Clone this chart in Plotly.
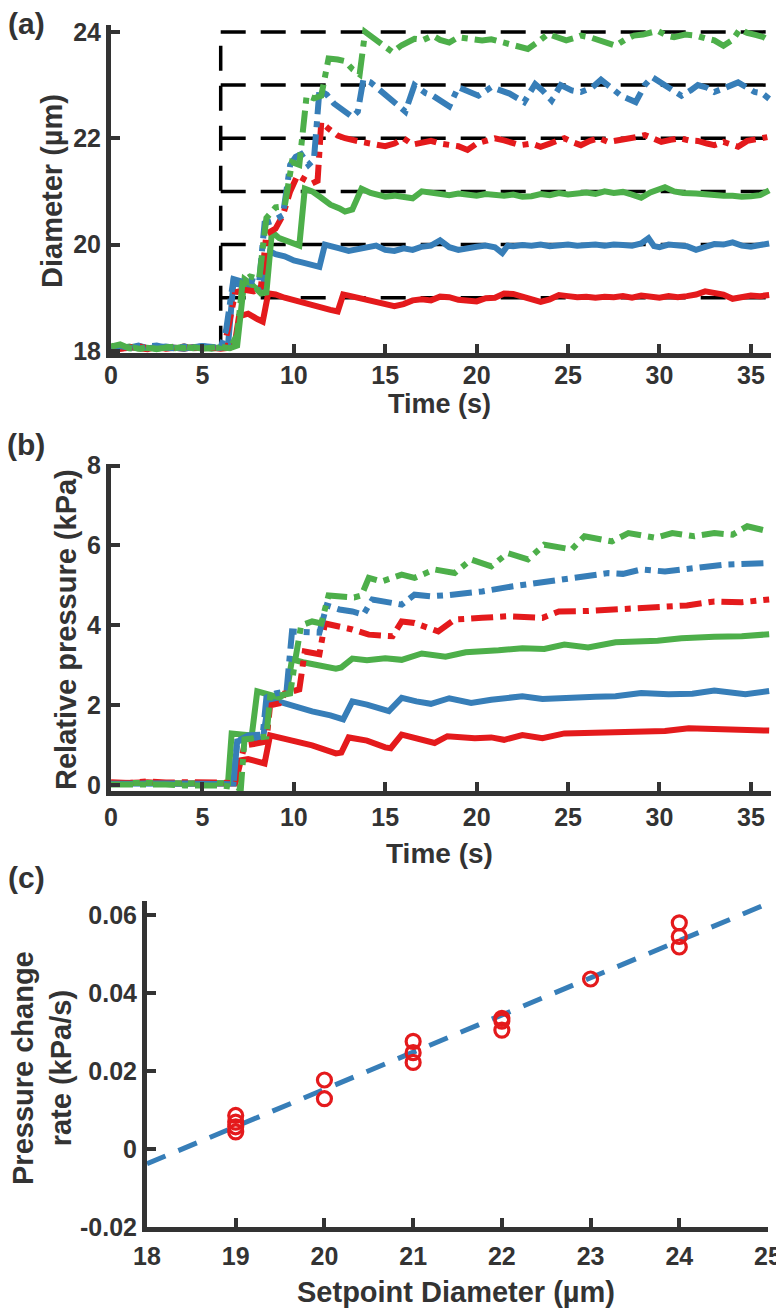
import numpy as np
import plotly.graph_objects as go

W, H = 784, 1311
OFF = 8  # the page body adds an 8 px margin at top/left
RED, BLUE, GREEN = "#E41A1C", "#377EB8", "#4DAF4A"
AX = "#333333"
FONT = "Liberation Sans, Arial, sans-serif"

# ---------------- Panel (a): diameter vs time (t, diameter) ----------------
SETPOINTS = [19, 20, 21, 22, 23, 24]
REF_START = 6
REF_END = 36

DIA_19 = [(0,18.05),(0.5,18.04),(1,18.07),(1.5,18.06),(2,18.03),(2.5,18.08),(3,18.05),(3.5,18.06),(4,18.04),(4.5,18.07),(5,18.05),(5.5,18.06),(6,18.04),(6.5,18.06),(6.8,18.2),(7.0,18.65),(7.5,18.7),(8.0,18.6),(8.3,18.55),(8.6,19.08),(9,19.06),(9.5,19.0),(10,18.95),(10.5,18.9),(11,18.86),(11.5,18.8),(12,18.77),(12.4,18.74),(12.7,19.06),(13,19.04),(13.5,19.0),(14,18.98),(14.5,18.93),(15,18.88),(15.5,18.84),(16,18.88),(16.5,18.95),(17,18.97),(17.5,18.95),(18,19.02),(18.5,19.01),(19,18.96),(19.5,18.94),(20,18.93),(20.5,18.99),(21,19.0),(21.5,19.08),(22,19.07),(22.5,19.02),(23,18.98),(23.5,18.92),(24,18.97),(24.5,19.05),(25,19.03),(25.5,19.01),(26,19.02),(26.5,19.0),(27,19.02),(27.5,19.01),(28,19.03),(28.5,19.0),(29,19.04),(29.5,19.02),(30,19.0),(30.5,19.03),(31,19.01),(31.5,19.03),(32,19.06),(32.5,19.12),(33,19.08),(33.5,19.06),(34,18.98),(34.5,19.02),(35,19.04),(35.5,19.03),(36,19.05)]
DIA_20 = [(0,18.08),(0.5,18.05),(1,18.06),(1.5,18.1),(2,18.05),(2.5,18.07),(3,18.08),(3.5,18.06),(4,18.04),(4.5,18.07),(5,18.09),(5.5,18.05),(6,18.06),(6.4,18.1),(6.7,19.3),(7.0,19.25),(7.5,19.18),(8.0,19.17),(8.3,19.2),(8.7,19.87),(9.0,19.82),(9.5,19.78),(10,19.7),(10.5,19.66),(11,19.62),(11.4,19.58),(11.7,20.0),(12,19.98),(12.5,19.93),(13,19.88),(13.5,19.92),(14,19.96),(14.5,19.98),(15,19.9),(15.5,19.88),(16,19.93),(16.5,19.9),(17,19.96),(17.5,19.98),(18,20.08),(18.5,19.95),(19,19.9),(19.5,19.94),(20,19.96),(20.5,19.98),(21,19.95),(21.4,19.84),(21.7,19.98),(22,19.97),(22.5,19.99),(23,19.98),(23.5,20.0),(24,19.97),(24.5,19.99),(25,20.0),(25.5,19.98),(26,19.99),(26.5,20.0),(27,19.98),(27.5,20.0),(28,19.99),(28.5,19.98),(29,20.02),(29.4,20.12),(29.7,19.97),(30,19.95),(30.5,20.0),(31,19.98),(31.5,19.97),(32,19.9),(32.5,19.96),(33,20.01),(33.5,20.0),(34,20.04),(34.5,19.98),(35,19.96),(35.5,19.99),(36,20.02)]
DIA_21 = [(0,18.1),(0.5,18.05),(1,18.08),(1.5,18.04),(2,18.06),(2.5,18.03),(3,18.07),(3.5,18.05),(4,18.08),(4.5,18.05),(5,18.06),(5.5,18.04),(6,18.07),(6.5,18.05),(6.9,18.1),(7.3,19.35),(7.7,19.25),(8.2,19.08),(8.5,19.1),(8.8,20.24),(9.2,20.12),(9.7,20.05),(10.1,20.0),(10.3,19.98),(10.6,21.05),(11,21.0),(11.5,20.88),(12,20.75),(12.5,20.68),(12.8,20.62),(13.2,20.66),(13.7,21.05),(14.2,20.97),(14.6,20.93),(15,20.9),(15.5,20.92),(16,20.9),(16.5,20.87),(17,21.0),(17.5,20.97),(18,20.95),(18.5,20.93),(19,20.96),(19.5,20.94),(20,20.92),(20.5,20.95),(21,20.93),(21.5,20.92),(22,20.94),(22.5,20.9),(23,20.91),(23.5,20.95),(24,20.93),(24.5,20.97),(25,20.94),(25.5,20.96),(26,20.98),(26.5,20.95),(27,21.0),(27.5,20.97),(28,20.99),(28.5,20.94),(29,20.88),(29.5,20.98),(30,21.05),(30.3,21.08),(30.8,21.0),(31.3,20.97),(32,20.96),(32.5,20.94),(33,20.93),(33.5,20.92),(34,20.92),(34.5,20.9),(35,20.91),(35.5,20.93),(36,21.02)]
DIA_22 = [(0,18.07),(0.5,18.04),(1,18.06),(1.5,18.09),(2,18.05),(2.5,18.07),(3,18.04),(3.5,18.06),(4,18.08),(4.5,18.05),(5,18.07),(5.5,18.06),(6,18.05),(6.2,18.08),(6.5,18.6),(6.8,19.1),(7.3,19.15),(7.8,19.12),(8.2,19.2),(8.5,20.2),(9.0,20.3),(9.4,20.55),(9.8,21.0),(10.2,21.3),(10.6,21.22),(11.0,21.15),(11.3,21.2),(11.5,22.3),(11.9,22.18),(12.4,22.05),(12.8,22.0),(13.3,21.95),(13.7,21.93),(14.2,21.9),(14.6,21.87),(15.0,21.85),(15.5,21.9),(16,22.0),(16.5,21.88),(17,21.92),(17.5,21.95),(18,21.9),(18.5,21.88),(19,21.85),(19.5,21.78),(20,21.9),(20.5,21.95),(21,22.0),(21.5,21.96),(22,21.92),(22.4,21.87),(23,21.9),(23.5,21.84),(24,21.9),(24.5,21.96),(24.8,22.0),(25.3,21.92),(25.7,21.87),(26.2,21.95),(26.7,22.0),(27.2,21.93),(27.6,21.95),(28.2,21.98),(28.7,22.02),(29.2,22.06),(29.6,22.0),(30.1,21.93),(30.6,21.97),(31.1,22.0),(31.6,21.96),(32.1,21.95),(32.6,21.9),(33.0,21.87),(33.5,21.93),(34,21.86),(34.3,21.84),(34.8,21.95),(35.3,21.98),(35.9,22.02)]
DIA_23 = [(0,18.05),(0.5,18.09),(1,18.06),(1.5,18.04),(2,18.08),(2.5,18.1),(3,18.06),(3.5,18.05),(4,18.08),(4.5,18.06),(5,18.09),(5.5,18.07),(6,18.06),(6.3,18.4),(6.7,19.35),(7.2,19.3),(7.7,19.32),(8.1,19.28),(8.4,20.4),(8.9,20.45),(9.4,20.55),(9.8,21.5),(10.1,21.65),(10.4,21.7),(10.8,21.5),(11.1,21.6),(11.4,22.9),(11.8,22.82),(12.2,22.65),(12.8,22.5),(13.2,22.4),(13.5,22.5),(13.8,23.1),(14.2,23.05),(14.6,22.93),(15.0,22.8),(15.5,22.65),(16.1,22.5),(16.6,23.0),(17.2,22.85),(17.6,22.8),(18.0,22.7),(18.5,22.6),(19.0,22.96),(19.5,22.9),(20.1,22.8),(20.8,22.96),(21.3,22.9),(21.8,22.84),(22.6,22.68),(23.2,23.02),(23.6,22.9),(24.1,22.71),(24.6,23.0),(25.2,22.9),(25.7,22.87),(26.3,22.95),(26.8,23.1),(27.3,22.95),(27.9,22.8),(28.7,22.68),(29.2,23.0),(29.6,23.15),(30.3,23.0),(30.8,22.9),(31.2,22.8),(31.7,22.9),(32.1,23.0),(32.6,22.95),(33.0,22.87),(33.6,22.95),(34.3,23.05),(34.8,22.95),(35.2,22.87),(35.6,22.85),(36,22.74)]
DIA_24 = [(0,18.08),(0.5,18.12),(1,18.05),(1.5,18.03),(2,18.07),(2.5,18.04),(3,18.06),(3.5,18.08),(4,18.05),(4.5,18.07),(5,18.04),(5.5,18.06),(6,18.08),(6.5,18.05),(6.9,18.3),(7.2,19.3),(7.6,19.4),(8.1,19.35),(8.5,20.5),(9.0,20.7),(9.5,20.72),(9.9,21.55),(10.3,21.5),(10.7,22.8),(11.1,22.75),(11.5,22.8),(11.9,23.5),(12.4,23.48),(12.8,23.45),(13.2,23.3),(13.6,23.2),(13.9,24.0),(14.3,23.9),(14.6,23.8),(15.0,23.72),(15.4,23.62),(15.9,23.75),(16.6,23.87),(17.1,23.85),(17.6,23.93),(18.0,23.85),(18.5,23.8),(19.0,23.9),(19.5,23.88),(20.3,23.84),(20.8,23.86),(21.4,23.8),(22.0,23.75),(22.8,23.68),(23.3,23.8),(23.9,23.96),(24.4,23.9),(24.9,23.84),(25.3,23.88),(25.7,23.93),(26.2,23.9),(26.6,23.86),(27.0,23.8),(27.6,23.74),(28.1,23.85),(28.6,23.93),(29.1,23.95),(29.5,23.98),(29.9,24.02),(30.4,23.93),(30.8,23.9),(31.4,23.95),(32.0,23.93),(32.5,23.88),(33.0,23.84),(33.5,23.74),(34.0,23.85),(34.4,24.05),(34.8,23.98),(35.3,23.94),(35.7,23.9),(36,23.84)]

# ---------------- Panel (b): relative pressure vs time (t, kPa) ----------------
P_19 = [(0,0.05),(1,0.06),(2,0.08),(3,0.05),(4,0.06),(5,0.07),(6,0.05),(6.8,0.05),(7.0,0.62),(7.5,0.66),(8.0,0.6),(8.4,0.55),(8.7,1.25),(9.0,1.22),(10,1.12),(11,1.0),(12.3,0.8),(12.6,0.82),(13.0,1.2),(14,1.12),(15.0,0.95),(15.3,0.93),(15.9,1.27),(17,1.15),(17.7,1.06),(18.4,1.23),(19.2,1.2),(19.9,1.18),(20.8,1.2),(21.5,1.14),(22.5,1.26),(23.6,1.18),(24.8,1.3),(26,1.31),(27.6,1.34),(29,1.35),(30.3,1.36),(31.6,1.43),(33,1.4),(34.5,1.38),(36,1.37)]
P_20 = [(0,0.05),(1,0.04),(2,0.06),(3,0.05),(4,0.04),(5,0.05),(6,0.05),(6.7,0.05),(6.9,1.1),(7.5,1.17),(8.3,1.14),(8.6,2.05),(9.0,2.12),(10,1.97),(11,1.85),(12,1.75),(12.7,1.65),(13.2,2.1),(14,2.02),(15.2,1.86),(15.9,2.19),(16.7,2.1),(17.5,2.04),(18.5,2.18),(19.7,2.06),(20.8,2.14),(22.5,2.23),(23.6,2.16),(24.8,2.2),(26.5,2.22),(27.6,2.23),(29,2.31),(30.5,2.28),(31.8,2.29),(33,2.37),(34.7,2.28),(36,2.36)]
P_21 = [(0,0.06),(1,0.07),(2,0.05),(3,0.06),(4,0.05),(5,0.06),(6,0.05),(6.4,0.06),(6.6,1.3),(7.2,1.28),(7.7,1.25),(8.0,2.35),(8.5,2.3),(9.2,2.2),(9.6,2.3),(9.9,3.15),(10.5,3.08),(11.3,3.0),(12.3,2.92),(12.6,2.95),(13.2,3.17),(14,3.13),(15,3.18),(15.9,3.14),(17,3.3),(18.3,3.22),(19.4,3.33),(21.2,3.38),(22.5,3.43),(23.7,3.41),(24.8,3.52),(26.1,3.45),(27.6,3.58),(29.9,3.62),(31.2,3.68),(33,3.72),(34.5,3.73),(36,3.78)]
P_22 = [(0,0.08),(1,0.06),(2,0.1),(3,0.07),(4,0.08),(5,0.09),(6,0.07),(6.8,0.05),(7.0,0.5),(7.3,1.0),(8.0,1.05),(8.5,1.1),(8.7,2.0),(9.2,2.05),(9.5,2.3),(10.3,2.4),(10.6,3.35),(11.0,3.3),(11.4,3.28),(11.7,4.05),(12.2,4.0),(13.2,3.9),(14.1,3.77),(15.0,3.72),(15.4,3.73),(15.9,4.1),(16.6,4.06),(17.9,3.85),(18.8,4.15),(20.3,4.19),(21.7,4.23),(23.6,4.19),(24.5,4.35),(26,4.36),(27.6,4.4),(28.7,4.44),(30.3,4.46),(31.5,4.5),(33,4.6),(34.5,4.58),(36,4.65)]
P_23 = [(0,0.04),(1,0.05),(2,0.03),(3,0.04),(4,0.05),(5,0.04),(6,0.04),(6.7,0.03),(6.9,1.1),(7.5,1.25),(8.3,1.27),(8.5,2.2),(9.0,2.3),(9.6,2.35),(9.9,3.85),(10.5,3.85),(11.4,3.82),(11.8,4.5),(12.5,4.4),(13.2,4.35),(13.8,4.27),(14.3,4.65),(15.0,4.6),(15.9,4.52),(16.6,4.77),(17.5,4.73),(18.5,4.76),(20.3,4.85),(22,4.98),(23.9,5.09),(25.7,5.19),(27.2,5.31),(28,5.29),(29,5.4),(30.3,5.35),(32,5.44),(33.6,5.52),(36,5.56)]
P_24 = [(0,0.02),(1,0.03),(2,0.01),(3,0.02),(4,0.0),(5,0.01),(6,0.0),(6.9,-0.05),(7.1,-0.1),(7.3,1.15),(8.0,1.2),(8.5,1.22),(8.7,2.2),(9.3,2.27),(9.8,2.3),(10.1,3.2),(10.4,4.0),(11.0,4.1),(11.5,4.05),(11.9,4.75),(12.5,4.72),(13.3,4.7),(13.7,4.75),(14.1,5.19),(14.8,5.1),(15.9,5.27),(16.6,5.19),(17.7,5.4),(18.8,5.31),(19.7,5.65),(20.8,5.48),(21.7,5.81),(22.8,5.65),(23.7,6.02),(25.2,5.9),(25.9,6.23),(27.4,6.1),(28.3,6.31),(29.8,6.19),(30.7,6.31),(31.9,6.23),(33,6.31),(34,6.27),(34.8,6.48),(36,6.35)]

# ---------------- Panel (c): pressure change rate vs setpoint ----------------
RATE_X = [19, 19, 19, 19, 20, 20, 21, 21, 21, 22, 22, 22, 23, 24, 24, 24]
RATE_Y = [0.0086, 0.0069, 0.0057, 0.0044, 0.0177, 0.0129, 0.0276, 0.0247, 0.0222,
          0.0335, 0.0328, 0.0305, 0.0436, 0.0580, 0.0545, 0.0518]
FIT_X = [18, 25]

TIME_TICKS = [0, 5, 10, 15, 20, 25, 30, 35]
DIA_TICKS = [18, 20, 22, 24]
P_TICKS = [0, 2, 4, 6, 8]
C_XTICKS = [18, 19, 20, 21, 22, 23, 24, 25]
C_YTICKS = [-0.02, 0, 0.02, 0.04, 0.06]
C_YTICKTEXT = ["-0.02", "0", "0.02", "0.04", "0.06"]

SERIES_A = [(DIA_19, RED, "solid"), (DIA_20, BLUE, "solid"), (DIA_21, GREEN, "solid"),
            (DIA_22, RED, "dashdot"), (DIA_23, BLUE, "dashdot"), (DIA_24, GREEN, "dashdot")]
SERIES_B = [(P_19, RED, "solid"), (P_20, BLUE, "solid"), (P_21, GREEN, "solid"),
            (P_22, RED, "dashdot"), (P_23, BLUE, "dashdot"), (P_24, GREEN, "dashdot")]

DASHDOT = "22px,7px,6px,7px"

fig = go.Figure()

# reference (setpoint) lines in panel (a)
for s in SETPOINTS:
    fig.add_trace(go.Scatter(x=[REF_START, REF_END], y=[s, s], mode="lines",
                             line=dict(color="black", width=3.5, dash="25px,15px"),
                             xaxis="x", yaxis="y", showlegend=False, hoverinfo="skip"))
fig.add_trace(go.Scatter(x=[REF_START, REF_START], y=[min(SETPOINTS) - 1, max(SETPOINTS)], mode="lines",
                         line=dict(color="black", width=3.5, dash="25px,15px"),
                         xaxis="x", yaxis="y", showlegend=False, hoverinfo="skip"))

for data, col, style in SERIES_A:
    t, v = zip(*data)
    fig.add_trace(go.Scatter(x=list(t), y=list(v), mode="lines",
                             line=dict(color=col, width=6, dash=None if style == "solid" else DASHDOT),
                             xaxis="x", yaxis="y", showlegend=False))

for data, col, style in SERIES_B:
    t, v = zip(*data)
    fig.add_trace(go.Scatter(x=list(t), y=list(v), mode="lines",
                             line=dict(color=col, width=6, dash=None if style == "solid" else DASHDOT),
                             xaxis="x2", yaxis="y2", showlegend=False))

# linear fit for panel (c)
coef = np.polyfit(RATE_X, RATE_Y, 1)
fit_y = np.polyval(coef, FIT_X)
fig.add_trace(go.Scatter(x=FIT_X, y=fit_y, mode="lines",
                         line=dict(color=BLUE, width=5, dash="20px,14px"),
                         xaxis="x3", yaxis="y3", showlegend=False))
fig.add_trace(go.Scatter(x=RATE_X, y=RATE_Y, mode="markers",
                         marker=dict(symbol="circle-open", size=14, color=RED, line=dict(width=3.2, color=RED)),
                         xaxis="x3", yaxis="y3", showlegend=False))

tickfont = dict(family=FONT, size=25, color=AX, weight="bold")
common = dict(showgrid=False, zeroline=False, showline=True, linecolor=AX, linewidth=5,
              ticks="inside", ticklen=9, tickwidth=4, tickcolor=AX, tickfont=tickfont,
              mirror=False, fixedrange=True, automargin=False)

def px_x(p):
    return (p - OFF) / W

def px_y(p):
    return 1 - (p - OFF) / H

fig.update_layout(
    width=W, height=H, margin=dict(l=0, r=0, t=0, b=0, autoexpand=False),
    paper_bgcolor="white", plot_bgcolor="white",
    xaxis=dict(domain=[px_x(111), px_x(771)], range=[0, 36.1], tickvals=TIME_TICKS, anchor="y",
               ticklabelstandoff=-4, **common),
    yaxis=dict(domain=[px_y(353), px_y(25)], range=[17.96, 24.13], tickvals=DIA_TICKS, anchor="x", **common),
    xaxis2=dict(domain=[px_x(111), px_x(771)], range=[0, 36.1], tickvals=TIME_TICKS, anchor="y2",
                ticklabelstandoff=0, **common),
    yaxis2=dict(domain=[px_y(791), px_y(463.5)], range=[-0.14, 8.05], tickvals=P_TICKS, anchor="x2", **common),
    xaxis3=dict(domain=[px_x(147), px_x(768)], range=[18, 25], tickvals=C_XTICKS, anchor="y3",
                ticklabelstandoff=3, **common),
    yaxis3=dict(domain=[px_y(1227), px_y(901)], range=[-0.02, 0.0636], tickvals=C_YTICKS,
                ticktext=C_YTICKTEXT, anchor="x3", **common),
)

def label(text, x, y, size, angle=0):
    fig.add_annotation(text=text, x=px_x(x), y=px_y(y), xref="paper", yref="paper",
                       xanchor="center", yanchor="middle", showarrow=False, textangle=angle,
                       font=dict(family=FONT, size=size, color=AX, weight="bold"))

label("(a)", 26, 24, 30)
label("(b)", 26, 445, 30)
label("(c)", 26, 877, 30)
label("Diameter (µm)", 52, 191, 29, -90)
label("Time (s)", 440, 404, 27)
label("Relative pressure (kPa)", 66, 630, 29, -90)
label("Time (s)", 440, 853, 28)
label("Pressure change<br>rate (kPa/s)", 42, 1068, 29, -90)
label("Setpoint Diameter (µm)", 456, 1292, 29)

fig.write_html("out.html")
